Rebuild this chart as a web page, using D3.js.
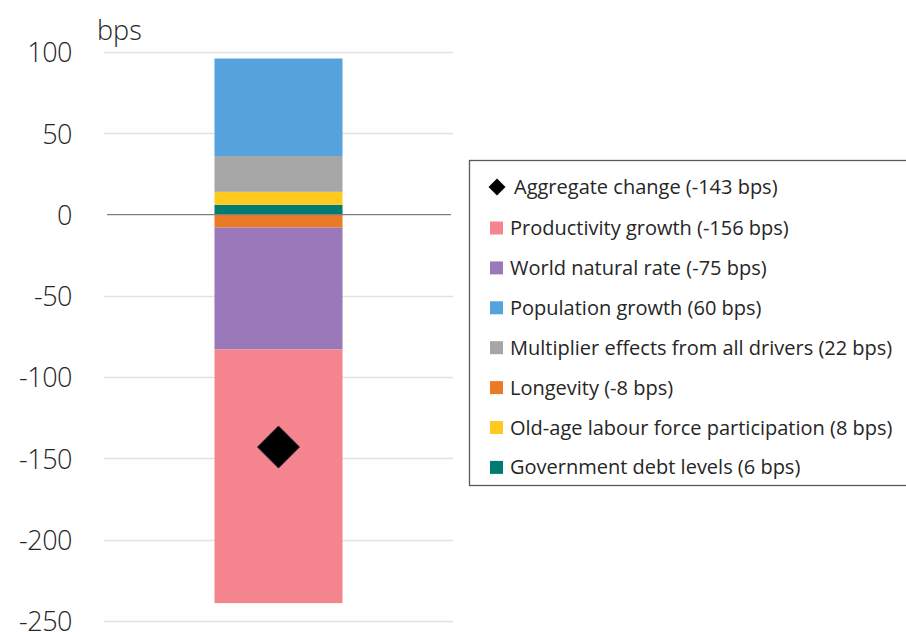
<!DOCTYPE html>
<html>
<head>
<meta charset="utf-8">
<script src="https://cdn.jsdelivr.net/npm/d3@7"></script>
<style>
  body { margin: 0; background: #fff; }
  text { font-family: "Open Sans", "Noto Sans", sans-serif; fill: #262626; }
</style>
</head>
<body>
<div id="chart"></div>
<script>
// data
var drivers = ["Government debt levels", "Old-age labour force participation", "Multiplier effects from all drivers",
  "Population growth", "Longevity", "World natural rate", "Productivity growth"];
var values = [6, 8, 22, 60, -8, -75, -156];
var colors = ["#007B70", "#FFCA1F", "#A6A6A6", "#56A2DC", "#EB7A27", "#9A78BA", "#F4858F"];
var aggregate = -143;
var legendOrder = ["Productivity growth", "World natural rate", "Population growth",
  "Multiplier effects from all drivers", "Longevity", "Old-age labour force participation", "Government debt levels"];
var yTicks = [100, 50, 0, -50, -100, -150, -200, -250];

var W = 906, H = 632;
var svg = d3.select("#chart").append("svg")
  .attr("width", W).attr("height", H);

var yScale = d3.scaleLinear().domain([-250, 100]).range([621, 52]);
var xScale = d3.scaleBand().domain(["all"]).range([104, 453]).paddingInner(0).paddingOuter(0.863);

// gridlines
svg.append("g").selectAll("line")
  .data(yTicks.filter(function (d) { return d !== 0; }))
  .enter().append("line")
  .attr("x1", 104).attr("x2", 453)
  .attr("y1", function (d) { return Math.round(yScale(d)) + 0.5; })
  .attr("y2", function (d) { return Math.round(yScale(d)) + 0.5; })
  .attr("stroke", "#e2e2e2").attr("stroke-width", 1.3);

// y axis labels
var yAxis = d3.axisLeft(yScale).tickValues(yTicks).tickSize(0).tickPadding(0)
  .tickFormat(function (d) { return String(d); });
var ya = svg.append("g").attr("transform", "translate(72,0)").call(yAxis);
ya.select(".domain").remove();
ya.selectAll("text")
  .style("font-size", "27px").style("font-weight", 300).style("letter-spacing", "-0.5px")
  .attr("fill", "#262626").attr("dy", "0.36em");

svg.append("text").attr("x", 97).attr("y", 40)
  .style("font-size", "27px").style("font-weight", 300).text("bps");

// stacked bar
var row = { cat: "all" };
drivers.forEach(function (k, i) { row[k] = values[i]; });
var stack = d3.stack().keys(drivers).offset(d3.stackOffsetDiverging);
var series = stack([row]);

svg.append("g").selectAll("rect")
  .data(series)
  .enter().append("rect")
  .attr("x", xScale("all"))
  .attr("width", xScale.bandwidth())
  .attr("y", function (s) { return yScale(Math.max(s[0][0], s[0][1])); })
  .attr("height", function (s) { return Math.abs(yScale(s[0][0]) - yScale(s[0][1])); })
  .attr("fill", function (s, i) { return colors[i]; });

// zero line
svg.append("line")
  .attr("x1", 107).attr("x2", 451)
  .attr("y1", yScale(0)).attr("y2", yScale(0))
  .attr("stroke", "#7f7f7f").attr("stroke-width", 1.3);

// aggregate diamond
var cx = xScale("all") + xScale.bandwidth() / 2;
svg.append("path")
  .attr("d", d3.symbol().type(d3.symbolSquare).size(21 * 21 * 2)())
  .attr("transform", "translate(" + cx + "," + yScale(aggregate) + ") rotate(45)")
  .attr("fill", "#000").attr("stroke", "#0d2030").attr("stroke-width", 0.8);

// legend
var lg = svg.append("g");
lg.append("rect")
  .attr("x", 469.5).attr("y", 160.5).attr("width", 460).attr("height", 325)
  .attr("fill", "#fff").attr("stroke", "#595959").attr("stroke-width", 1.3);

lg.append("path")
  .attr("d", d3.symbol().type(d3.symbolSquare).size(12 * 12)())
  .attr("transform", "translate(497,187) rotate(45)")
  .attr("fill", "#000");
lg.append("text").attr("x", 514).attr("y", 187).attr("dy", "0.35em")
  .style("font-size", "20px").attr("fill", "#000").text("Aggregate change (" + aggregate + " bps)");

var items = lg.selectAll("g.item")
  .data(legendOrder)
  .enter().append("g").attr("class", "item")
  .attr("transform", function (d, i) { return "translate(490," + (228 + i * 39.9) + ")"; });
items.append("rect")
  .attr("x", 0).attr("y", -6.5).attr("width", 13).attr("height", 13)
  .attr("fill", function (d) { return colors[drivers.indexOf(d)]; });
items.append("text")
  .attr("x", 20).attr("dy", "0.35em")
  .style("font-size", "20px").attr("fill", "#404040")
  .text(function (d) { return d + " (" + values[drivers.indexOf(d)] + " bps)"; });
</script>
</body>
</html>
